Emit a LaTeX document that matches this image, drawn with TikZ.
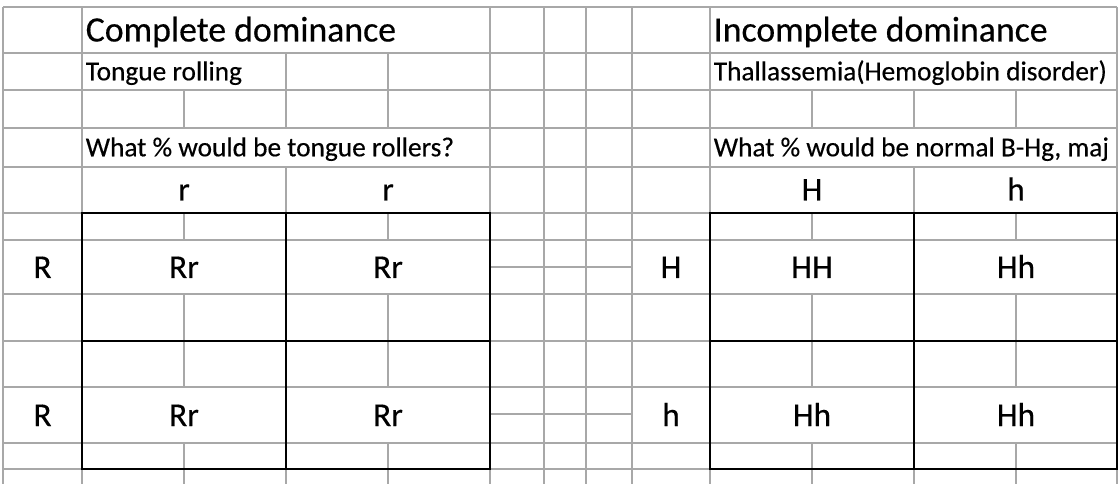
\documentclass[tikz,border=0pt]{standalone}
\usepackage{fontspec}
\setmainfont{Carlito}[FakeBold=0.4]
\usepackage{xcolor}
\usepackage{tikz}
\usetikzlibrary{positioning}
\definecolor{gridgray}{RGB}{168,168,168}
\tikzstyle{grid} = [draw=gridgray, line width=1pt]
\tikzstyle{box} = [draw=black, line width=1.6pt]
\tikzstyle{title} = [anchor=base west, inner sep=0pt, font=\fontsize{26.8}{30}\selectfont]
\tikzstyle{note} = [anchor=base west, inner sep=0pt, font=\fontsize{20.5}{24}\selectfont]
\tikzstyle{allele} = [anchor=base, inner sep=0pt, font=\fontsize{25}{28}\selectfont]

\begin{document}
\begin{tikzpicture}[x=0.75pt, y=-0.75pt]
		\useasboundingbox[fill=white] (0,0) rectangle (1120,484);

		\draw[grid] (3,7) -- (1117,7) (3,53) -- (1117,53) (3,90) -- (1117,90)
			(3,128) -- (1117,128) (3,167) -- (1117,167) (3,213) -- (1117,213)
			(3,240) -- (1117,240) (3,294) -- (1117,294) (3,341) -- (1117,341)
			(3,387) -- (1117,387) (3,443) -- (1117,443) (3,469) -- (1117,469)
			(490,267) -- (632,267) (490,414) -- (632,414);

		\draw[grid] (3,7) -- (3,484) (82,7) -- (82,484) (490,7) -- (490,484)
			(544,7) -- (544,484) (586,7) -- (586,484) (632,7) -- (632,484)
			(710,7) -- (710,484) (1117,7) -- (1117,484)
			(286,53) -- (286,128) (286,167) -- (286,484)
			(914,90) -- (914,128) (914,167) -- (914,484);
		\draw[grid] (184,90) -- (184,128) (184,213) -- (184,240) (184,294) -- (184,387) (184,443) -- (184,484)
			(388,53) -- (388,128) (388,213) -- (388,240) (388,294) -- (388,387) (388,443) -- (388,484)
			(812,90) -- (812,128) (812,213) -- (812,240) (812,294) -- (812,387) (812,443) -- (812,484)
			(1016,90) -- (1016,128) (1016,213) -- (1016,240) (1016,294) -- (1016,387) (1016,443) -- (1016,484);

		\draw[box] (82,213) rectangle (490,469) (82,341) -- (490,341) (286,213) -- (286,469);
		\draw[box] (710,213) rectangle (1117,469) (710,341) -- (1117,341) (914,213) -- (914,469);

		\node[title] (complete) at (85.5,41.5) {Complete dominance};
		\node[note] (tongue) at (85.5,80.3) {Tongue rolling};
		\node[note] (tongue q) at (85.5,156.3) {What \% would be tongue rollers?};
		\node[allele] (r top 1) at (184,200.5) {r};
		\node[allele] (r top 2) at (388,200.5) {r};
		\node[allele] (R left 1) at (42.5,278) {R};
		\node[allele] (R left 2) at (42.5,426) {R};
		\node[allele] (Rr 11) at (184,278) {Rr};
		\node[allele] (Rr 12) at (388,278) {Rr};
		\node[allele] (Rr 21) at (184,426) {Rr};
		\node[allele] (Rr 22) at (388,426) {Rr};

		\node[title] (incomplete) at (713.5,41.5) {Incomplete dominance};
		\node[note] (thal) at (713.5,80.3) {Thallassemia(Hemoglobin disorder)};
		\node[note] (thal q) at (713.5,156.3) {What \% would be normal B-Hg, maj};
		\node[allele] (H top) at (812,200.5) {H};
		\node[allele] (h top) at (1016,200.5) {h};
		\node[allele] (H left) at (671,278) {H};
		\node[allele] (h left) at (671,426) {h};
		\node[allele] (HH 11) at (812,278) {HH};
		\node[allele] (Hh 12) at (1016,278) {Hh};
		\node[allele] (Hh 21) at (812,426) {Hh};
		\node[allele] (Hh 22) at (1016,426) {Hh};
	\end{tikzpicture}
\end{document}
